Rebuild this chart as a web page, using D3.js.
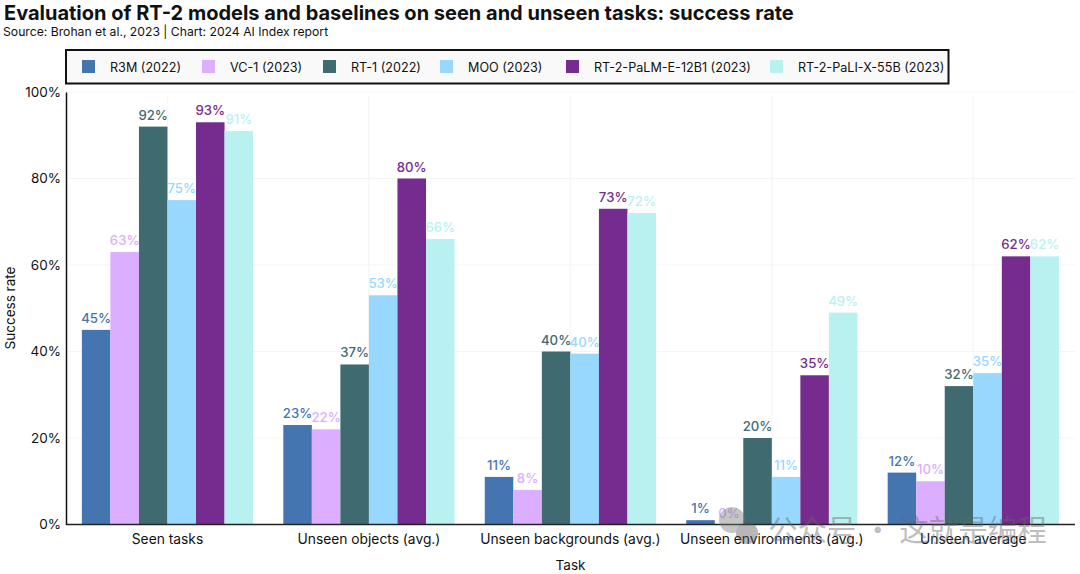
<!DOCTYPE html>
<html>
<head>
  <meta charset="utf-8">
  <title>RT-2 success rate</title>
  <script src="https://d3js.org/d3.v7.min.js"></script>
  <style>
    html, body { margin: 0; background: #fff; }
    svg { display: block; }
    text { font-family: "Inter", sans-serif; fill: #111; }
  </style>
</head>
<body>
  <svg width="1080" height="574"></svg>
  <script>
    // Task groups, models and success rates
    const tasks = ["Seen tasks", "Unseen objects (avg.)", "Unseen backgrounds (avg.)", "Unseen environments (avg.)", "Unseen average"];
    const models = ["R3M (2022)", "VC-1 (2023)", "RT-1 (2022)", "MOO (2023)", "RT-2-PaLM-E-12B1 (2023)", "RT-2-PaLI-X-55B (2023)"];
    const colors = ["#4575b1", "#dcaeff", "#3f6b70", "#98d8ff", "#762b8e", "#b9f1f1"];
    const r3m = [45, 23, 11, 1, 12];
    const vc1 = [63, 22, 8, 0, 10];
    const rt1 = [92, 37, 40, 20, 32];
    const moo = [75, 53, 39.5, 11, 35];
    const palm = [93, 80, 73, 34.5, 62];
    const pali = [91, 66, 72, 49, 62];
    const series = [r3m, vc1, rt1, moo, palm, pali];
    const yTicks = [0, 20, 40, 60, 80, 100];
    const legendX = [82, 202, 323, 440, 566, 770];

    const svg = d3.select("svg");

    const x0 = d3.scaleBand().domain(tasks).range([66.75, 1074]).paddingInner(0.15).paddingOuter(0.075);
    const x1 = d3.scaleBand().domain(models).range([0, x0.bandwidth()]);
    const y = d3.scaleLinear().domain([0, 100]).range([524.5, 92]);

    // Title and source
    svg.append("text").attr("x", 4).attr("y", 19.5).attr("font-size", 20).attr("font-weight", 700)
      .text("Evaluation of RT-2 models and baselines on seen and unseen tasks: success rate");
    svg.append("text").attr("x", 3).attr("y", 36).attr("font-size", 12.2)
      .text("Source: Brohan et al., 2023 | Chart: 2024 AI Index report");

    // Faint grid
    svg.append("g").selectAll("line").data(yTicks.slice(1)).enter().append("line")
      .attr("x1", 66).attr("x2", 1075).attr("y1", d => y(d)).attr("y2", d => y(d))
      .attr("stroke", "#f5f5f5");
    svg.append("g").selectAll("line").data(tasks).enter().append("line")
      .attr("x1", d => x0(d) + x0.bandwidth() / 2).attr("x2", d => x0(d) + x0.bandwidth() / 2)
      .attr("y1", 96).attr("y2", 524.5)
      .attr("stroke", "#f7f7f7").attr("stroke-width", 1.5);

    // Bars
    const groups = svg.append("g").selectAll("g").data(models).enter().append("g")
      .attr("fill", (d, i) => colors[i]);
    groups.selectAll("rect")
      .data((m, i) => tasks.map((t, j) => ({ t, m, v: series[i][j] })))
      .enter().append("rect")
      .attr("x", d => x0(d.t) + x1(d.m))
      .attr("y", d => y(d.v))
      .attr("width", x1.bandwidth())
      .attr("height", d => y(0) - y(d.v));

    // Value labels
    groups.selectAll("text")
      .data((m, i) => tasks.map((t, j) => ({ t, m, v: series[i][j], c: colors[i] })))
      .enter().append("text")
      .attr("x", d => x0(d.t) + x1(d.m) + x1.bandwidth() / 2)
      .attr("y", d => y(d.v) - 7)
      .attr("text-anchor", "middle")
      .attr("font-size", 13.2)
      .attr("font-weight", 500)
      .style("fill", d => d.c)
      .text(d => d3.format(".0f")(d.v) + "%");

    // Axes
    const yAxis = svg.append("g").attr("transform", "translate(66,0)")
      .call(d3.axisLeft(y).tickValues(yTicks).tickSize(0).tickPadding(5).tickFormat(d => d + "%"));
    yAxis.selectAll("text").attr("font-size", 13.5).attr("font-family", null);
    yAxis.select(".domain").attr("stroke", "#111").attr("stroke-width", 1.5);

    const xAxis = svg.append("g").attr("transform", "translate(0,524.5)")
      .call(d3.axisBottom(x0).tickSize(0).tickPadding(10));
    xAxis.selectAll("text").attr("font-size", 13.8).attr("font-family", null);
    xAxis.select(".domain").attr("d", "M66,0H1075").attr("stroke", "#222").attr("stroke-width", 1.5);

    svg.append("text").attr("x", 570.5).attr("y", 570).attr("text-anchor", "middle").attr("font-size", 13.5).text("Task");
    svg.append("text").attr("transform", "translate(15,308) rotate(-90)").attr("text-anchor", "middle")
      .attr("font-size", 13.5).text("Success rate");

    // Legend
    svg.append("rect").attr("x", 66).attr("y", 50).attr("width", 882.5).attr("height", 33.5)
      .attr("fill", "#f9f9f9").attr("stroke", "#111").attr("stroke-width", 2);
    const legend = svg.append("g").selectAll("g").data(models).enter().append("g")
      .attr("transform", (d, i) => `translate(${legendX[i]},60)`);
    legend.append("rect").attr("width", 13).attr("height", 13).attr("fill", (d, i) => colors[i]);
    legend.append("text").attr("x", 28).attr("y", 11.5).attr("font-size", 12.6).text(d => d);

    // Watermark sitting over the lower right of the picture
    const mark = svg.append("g").attr("opacity", 0.42);
    mark.append("circle").attr("cx", 732).attr("cy", 520).attr("r", 13).attr("fill", "#777");
    mark.append("circle").attr("cx", 747).attr("cy", 533).attr("r", 11).attr("fill", "#555");
    mark.append("text").attr("x", 768).attr("y", 541).attr("font-size", 29.5)
      .style("fill", "#666").style("font-family", "Noto Sans CJK SC")
      .text("公众号 · 这就是编程");
  </script>
</body>
</html>
